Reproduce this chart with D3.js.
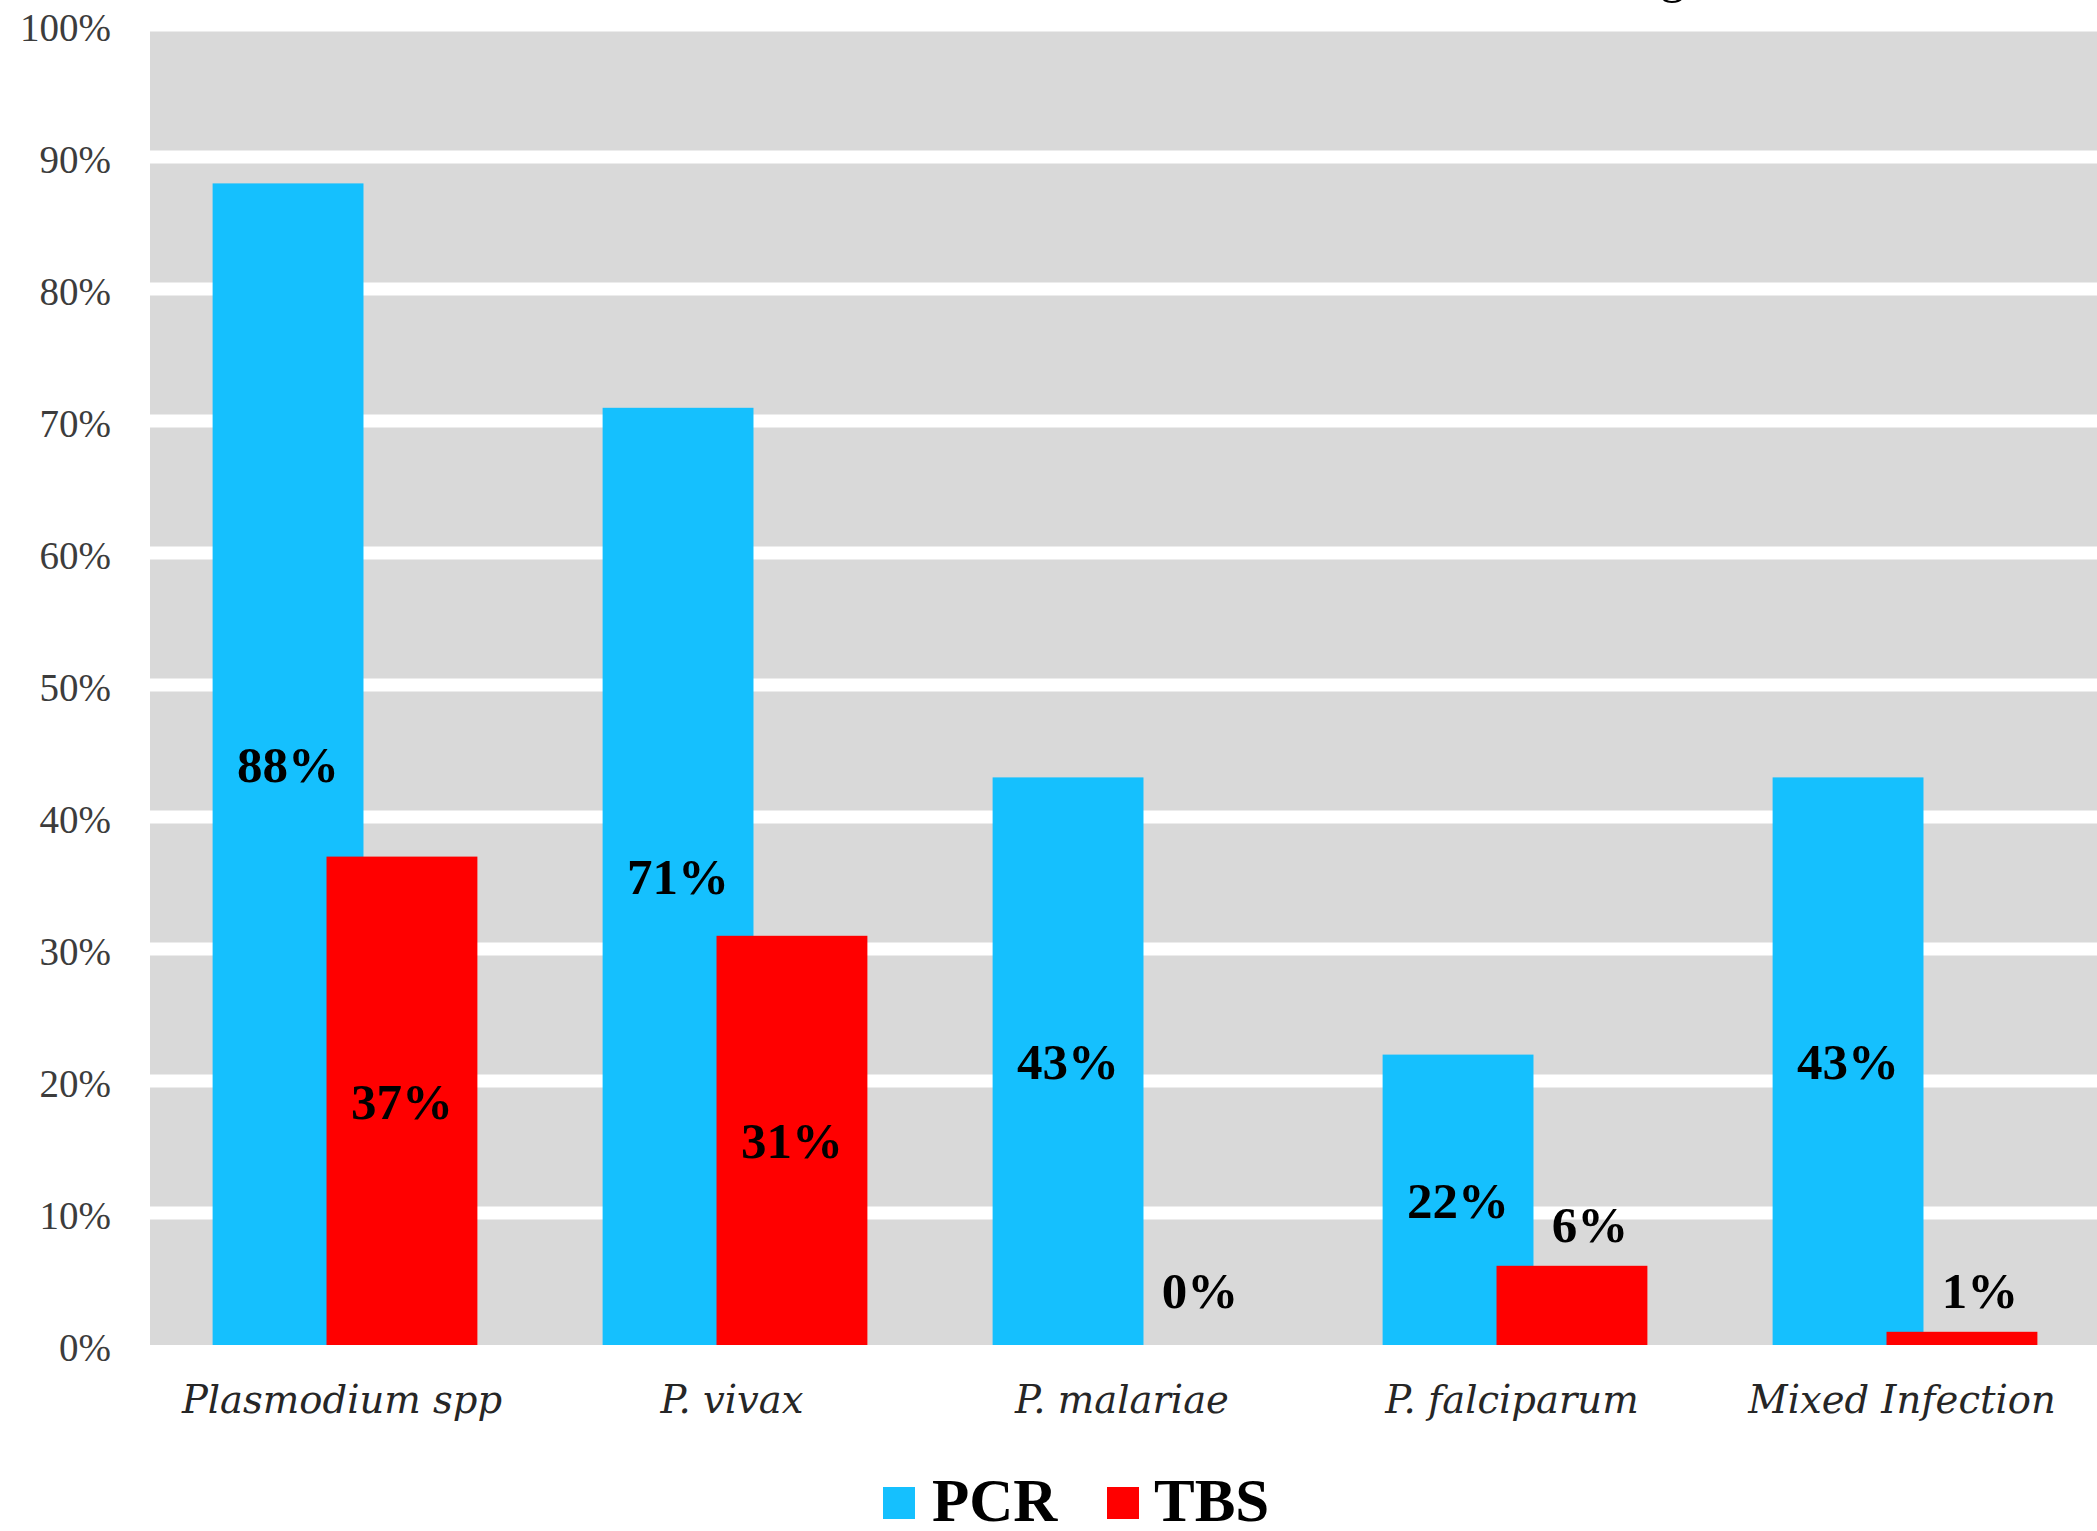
<!DOCTYPE html>
<html>
<head>
<meta charset="utf-8">
<script src="https://cdn.jsdelivr.net/npm/d3@7"></script>
<style>
  html, body { margin: 0; padding: 0; background: #ffffff; }
  svg { display: block; }
</style>
</head>
<body>
<div id="chart"></div>
<script>
// Detection rate by species, PCR vs thick blood smear (TBS)
const categories = ["Plasmodium spp", "P. vivax", "P. malariae", "P. falciparum", "Mixed Infection"];
const seriesNames = ["PCR", "TBS"];
const pcrValues = [88, 71, 43, 22, 43];
const tbsValues = [37, 31, 0, 6, 1];
const yTickValues = [0, 10, 20, 30, 40, 50, 60, 70, 80, 90, 100];

const W = 2097, H = 1531;
const plot = { left: 150, right: 2100, top: 25, bottom: 1345 };
const colors = { PCR: "#15c0fe", TBS: "#ff0000" };
const overlap = 0.245;   // share of bar width that the two series overlap
const gapWidth = 0.83;   // gap between clusters, as a share of bar width

const svg = d3.select("#chart").append("svg")
  .attr("width", W).attr("height", H);

const x0 = d3.scaleBand().domain(categories).range([plot.left, plot.right]).padding(0);
const y = d3.scaleLinear().domain([0, 100]).range([plot.bottom, plot.top]);

const band = x0.bandwidth();
const barW = band / (seriesNames.length - (seriesNames.length - 1) * overlap + gapWidth);
const step = barW * (1 - overlap);
const clusterW = barW + step * (seriesNames.length - 1);
const xOffset = d => (band - clusterW) / 2 + d * step;

// plot background
svg.append("rect")
  .attr("x", plot.left).attr("y", y(100))
  .attr("width", plot.right - plot.left).attr("height", y(0) - y(100))
  .attr("fill", "#d9d9d9");

// white gridline bands
svg.append("g").selectAll("line")
  .data(yTickValues.filter(v => v > 0))
  .join("line")
  .attr("x1", plot.left).attr("x2", plot.right)
  .attr("y1", d => y(d)).attr("y2", d => y(d))
  .attr("stroke", "#ffffff").attr("stroke-width", 13);

// y axis labels
const yAxis = d3.axisLeft(y).tickValues(yTickValues).tickFormat(d => d + "%").tickSize(0).tickPadding(0);
const yG = svg.append("g").attr("transform", `translate(111,3)`).call(yAxis);
yG.select(".domain").remove();
yG.selectAll("text")
  .attr("font-family", "'Liberation Serif', 'Times New Roman', serif")
  .attr("font-size", 39)
  .attr("fill", "#3c3c3c");

// bars
const rows = categories.map((c, i) => ({ cat: c, PCR: pcrValues[i], TBS: tbsValues[i] }));
const flat = [];
rows.forEach(r => seriesNames.forEach((s, si) => flat.push({ cat: r.cat, s, si, v: r[s] })));

svg.append("g").selectAll("rect")
  .data(flat)
  .join("rect")
  .attr("x", d => x0(d.cat) + xOffset(d.si))
  .attr("y", d => y(d.v))
  .attr("width", barW)
  .attr("height", d => y(0) - y(d.v))
  .attr("fill", d => colors[d.s]);

// value labels: centred in tall bars, above short ones
svg.append("g").selectAll("text")
  .data(flat)
  .join("text")
  .attr("x", d => x0(d.cat) + xOffset(d.si) + barW / 2 + (d.v < 10 ? 18 : 0))
  .attr("y", d => d.v < 10 ? y(Math.max(d.v, 1)) - 42 : (y(d.v) + y(0)) / 2)
  .attr("dy", "0.35em")
  .attr("text-anchor", "middle")
  .attr("font-family", "'Liberation Serif', 'Times New Roman', serif")
  .attr("font-weight", "bold")
  .attr("font-size", 51)
  .attr("fill", "#000000")
  .text(d => d.v + "%");

// category labels
svg.append("g").selectAll("text")
  .data(categories)
  .join("text")
  .attr("x", d => x0(d) + band / 2 - 3)
  .attr("y", 1413)
  .attr("text-anchor", "middle")
  .attr("font-family", "'DejaVu Serif', serif")
  .attr("font-style", "italic")
  .attr("font-size", 38.5)
  .attr("fill", "#262626")
  .text(d => d);

// legend
const legendItems = [
  { name: "PCR", sx: 883, tx: 932 },
  { name: "TBS", sx: 1107, tx: 1154 }
];
const lg = svg.append("g");
lg.selectAll("rect")
  .data(legendItems)
  .join("rect")
  .attr("x", d => d.sx).attr("y", 1487)
  .attr("width", 32).attr("height", 32)
  .attr("fill", d => colors[d.name]);
lg.selectAll("text")
  .data(legendItems)
  .join("text")
  .attr("x", d => d.tx).attr("y", 1521)
  .attr("font-family", "'Liberation Serif', 'Times New Roman', serif")
  .attr("font-weight", "bold")
  .attr("font-size", 61)
  .attr("fill", "#000000")
  .text(d => d.name);

// tail of the heading line above the chart
svg.append("text")
  .attr("x", 1660).attr("y", -8)
  .attr("font-family", "'Liberation Serif', 'Times New Roman', serif")
  .attr("font-size", 50)
  .attr("fill", "#000000")
  .text("g");
</script>
</body>
</html>
